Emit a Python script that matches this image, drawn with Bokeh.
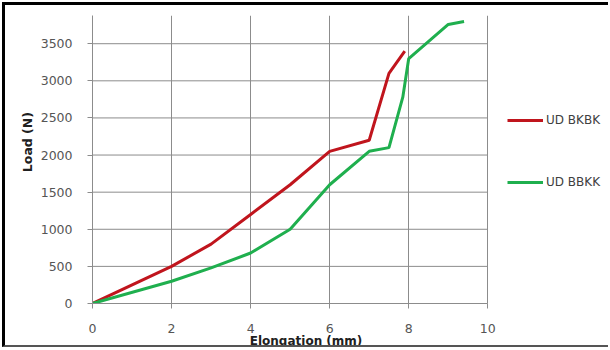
from bokeh.plotting import figure
from bokeh.models import Range1d, Legend, LegendItem, FixedTicker
from bokeh.embed import file_html
from bokeh.resources import INLINE

# Data
bkbk_x = [0, 2, 3, 4, 5, 6, 7, 7.5, 7.9]
bkbk_y = [0, 500, 800, 1200, 1600, 2050, 2200, 3100, 3400]

bbkk_x = [0, 2, 3, 4, 5, 6, 7, 7.5, 7.85, 8.0, 9.0, 9.4]
bbkk_y = [0, 300, 480, 680, 1000, 1600, 2050, 2100, 2780, 3300, 3760, 3800]

x_ticks = [0, 2, 4, 6, 8, 10]
y_ticks = [0, 500, 1000, 1500, 2000, 2500, 3000, 3500]

series_names = ["UD BKBK", "UD BBKK"]
colors = ["#C0151D", "#1FAF4E"]

NB = "\u00a0"

W, H = 606, 345
left, top, bottom = 87, 10, 44
frame_w = W - 3 - left
x_min, x_max = 0, 10
# plot frame extends to the right to host the legend (x range 0..10 covers 393 px)
x_view_max = x_max * frame_w / 393

p = figure(width=W, height=H, output_backend="svg", toolbar_location=None,
           x_range=Range1d(0, x_view_max), y_range=Range1d(0, 3880),
           min_border_left=left, min_border_right=0, min_border_top=top,
           min_border_bottom=bottom)
p.outline_line_color = None
p.background_fill_color = "white"
p.border_fill_color = "white"

grid_col = "#8c8c8c"
for ax in (p.xaxis[0], p.yaxis[0]):
    ax.axis_line_color = grid_col
    ax.major_tick_line_color = grid_col
    ax.major_tick_out = 5
    ax.major_tick_in = 0
    ax.minor_tick_line_color = None
    ax.major_label_text_font = "DejaVu Sans"
    ax.major_label_text_font_size = "12.5px"
    ax.major_label_text_color = "#555555"
    ax.axis_label_text_font = "DejaVu Sans"
    ax.axis_label_text_font_style = "bold"
    ax.axis_label_text_color = "#202020"

p.xaxis.ticker = FixedTicker(ticks=x_ticks)
p.yaxis.ticker = FixedTicker(ticks=y_ticks)
p.xaxis.bounds = (x_min, x_max)
# labels padded with non-breaking spaces to place them as in the reference
p.xaxis.axis_label = "Elongation (mm)" + NB * 22
p.yaxis.axis_label = NB * 8 + "Load (N)"
p.xaxis.axis_label_text_font_size = "12px"
p.yaxis.axis_label_text_font_size = "12.5px"
p.xaxis.major_label_standoff = 15
p.yaxis.major_label_standoff = 15
p.xaxis.axis_label_standoff = -2
p.yaxis.axis_label_standoff = 3

p.xgrid.ticker = FixedTicker(ticks=x_ticks)
p.xgrid.grid_line_color = grid_col
p.ygrid.grid_line_color = None
# horizontal gridlines limited to the data area (0..10)
p.segment(x0=[x_min] * len(y_ticks), x1=[x_max] * len(y_ticks), y0=y_ticks, y1=y_ticks,
          line_color=grid_col, line_width=1)

r1 = p.line(bkbk_x, bkbk_y, line_color=colors[0], line_width=3)
r2 = p.line(bbkk_x, bbkk_y, line_color=colors[1], line_width=3)

legend = Legend(items=[LegendItem(label=series_names[0], renderers=[r1]),
                       LegendItem(label=series_names[1], renderers=[r2])],
                location=(415, 111))
legend.border_line_color = None
legend.background_fill_alpha = 0
legend.padding = 0
legend.margin = 0
legend.glyph_width = 36
legend.glyph_height = 20
legend.label_height = 20
legend.label_standoff = 3
legend.spacing = 42
legend.label_text_font = "DejaVu Sans"
legend.label_text_font_size = "12px"
legend.label_text_color = "#404040"
p.add_layout(legend, "center")

p.styles = {"border-top": "3px solid black", "border-left": "3px solid black",
            "border-bottom": "2px solid #555555", "border-right": "none",
            "box-sizing": "border-box", "margin-top": "2px", "margin-left": "2px"}

open("out.html", "w").write(file_html(p, INLINE))
